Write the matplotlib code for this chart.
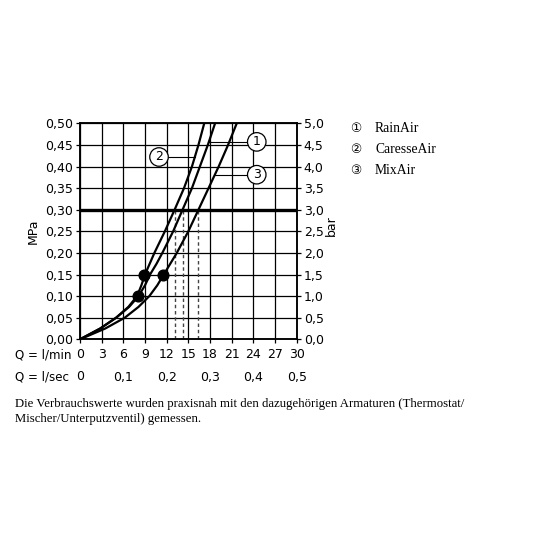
import matplotlib
matplotlib.use("Agg")
import matplotlib.pyplot as plt
from matplotlib.transforms import blended_transform_factory
import numpy as np

# pressure levels (MPa) at which the flow of each shower head was read
druck = [0, 0.025, 0.05, 0.075, 0.10, 0.125, 0.15, 0.175, 0.20, 0.25, 0.30, 0.35, 0.40, 0.45, 0.50]
q_rainair = [0, 2.8, 5.0, 6.8, 8.1, 9.0, 9.7, 10.6, 11.4, 12.9, 14.2, 15.5, 16.6, 17.7, 18.7]
q_caresseair = [0, 2.8, 5.0, 6.7, 7.9, 8.5, 9.0, 9.65, 10.3, 11.75, 13.1, 14.4, 15.5, 16.4, 17.2]
q_mixair = [0, 3.5, 6.2, 8.1, 9.6, 10.7, 11.6, 12.5, 13.4, 15.0, 16.4, 17.8, 19.2, 20.5, 21.7]

# marked operating points (l/min, MPa)
punkte_q = [8.9, 8.0, 11.5]
punkte_p = [0.15, 0.10, 0.15]

# flow at 3 bar (dashed drop lines)
druck_ref = 0.30
q_ref = [13.15, 14.3, 16.3]

q_ticks = [0, 3, 6, 9, 12, 15, 18, 21, 24, 27, 30]
lsec_vals = [0, 0.1, 0.2, 0.3, 0.4, 0.5]
mpa_ticks = [0, 0.05, 0.10, 0.15, 0.20, 0.25, 0.30, 0.35, 0.40, 0.45, 0.50]
bar_ticks = [0, 0.5, 1.0, 1.5, 2.0, 2.5, 3.0, 3.5, 4.0, 4.5, 5.0]

namen = ["RainAir", "CaresseAir", "MixAir"]
kreis = ["\u2460", "\u2461", "\u2462"]

W = 536.0
fig = plt.figure(figsize=(5.36, 5.36), dpi=100)
ax = fig.add_axes([80 / W, 1 - 339.3 / W, 216.7 / W, 216 / W])
ax.set_xlim(0, 30)
ax.set_ylim(0, 0.5)

ax.set_xticks(q_ticks)
ax.set_xticklabels([str(v) for v in q_ticks])
ax.set_yticks(mpa_ticks)
ax.set_yticklabels([f"{v:.2f}".replace(".", ",") for v in mpa_ticks])
ax.grid(True, color="black", lw=0.9)
ax.set_axisbelow(True)
for s in ax.spines.values():
    s.set_linewidth(1.1)
ax.tick_params(direction="out", length=3, width=0.9, labelsize=9, pad=2, colors="black")
ax.tick_params(axis="x", pad=3)

ax2 = ax.twinx()
ax2.set_ylim(0, 5)
ax2.set_yticks(bar_ticks)
ax2.set_yticklabels([f"{v:.1f}".replace(".", ",") for v in bar_ticks])
ax2.tick_params(direction="out", length=3, width=0.9, labelsize=9, pad=2)
for s in ax2.spines.values():
    s.set_linewidth(1.1)

# curves
for q in [q_rainair, q_caresseair, q_mixair]:
    ax.plot(q, druck, color="black", lw=1.6, zorder=3, solid_joinstyle="round")

# 3 bar reference line + drops
ax.axhline(druck_ref, color="black", lw=2.4, zorder=4)
for q in q_ref:
    ax.plot([q, q], [0, druck_ref], color="#444444", lw=1.0, ls=(0, (2.5, 2)), zorder=2)

ax.plot(punkte_q, punkte_p, "o", color="black", ms=7.7, zorder=5)

# circled curve labels with leader lines
lab_pos = [(24.47, 0.457), (10.94, 0.422), (24.47, 0.381)]
for i, (q, (lx, ly)) in enumerate(zip([q_rainair, q_caresseair, q_mixair], lab_pos)):
    qc = np.interp(ly, druck, q)
    ax.plot([lx, qc], [ly, ly], color="black", lw=0.8, zorder=5)
    ax.text(lx, ly, str(i + 1), ha="center", va="center", fontsize=9, zorder=6,
            bbox=dict(boxstyle="circle,pad=0.22", fc="white", ec="black", lw=0.9))

# axis titles
fig.text(33 / W, 1 - 231 / W, "MPa", rotation=90, ha="center", va="center", fontsize=9)
fig.text(331 / W, 1 - 226 / W, "bar", rotation=90, ha="center", va="center", fontsize=9)

# second x row in l/sec
tr = blended_transform_factory(ax.transData, fig.transFigure)
fig.text(15 / W, 1 - 355 / W, "Q = l/min", ha="left", va="center", fontsize=8.6)
fig.text(15 / W, 1 - 377 / W, "Q = l/sec", ha="left", va="center", fontsize=8.6)
for v in lsec_vals:
    lab = "0" if v == 0 else f"{v:.1f}".replace(".", ",")
    ax.text(v * 60, 1 - 377 / W, lab, transform=tr, ha="center", va="center", fontsize=9)

# legend
for i, n in enumerate(namen):
    y = 1 - (128 + i * 21.5) / W
    fig.text(356 / W, y, kreis[i], ha="center", va="center", fontsize=9,
             family=["DejaVu Sans", "Noto Sans CJK JP"])
    fig.text(375 / W, y, n, ha="left", va="center", fontsize=9.8, family="Liberation Serif")

fig.text(15 / W, 1 - 404 / W,
         "Die Verbrauchswerte wurden praxisnah mit den dazugehörigen Armaturen (Thermostat/",
         ha="left", va="center", fontsize=9.2, family="Liberation Serif")
fig.text(15 / W, 1 - 419 / W, "Mischer/Unterputzventil) gemessen.",
         ha="left", va="center", fontsize=9.2, family="Liberation Serif")

fig.savefig("out.png", dpi=100)
